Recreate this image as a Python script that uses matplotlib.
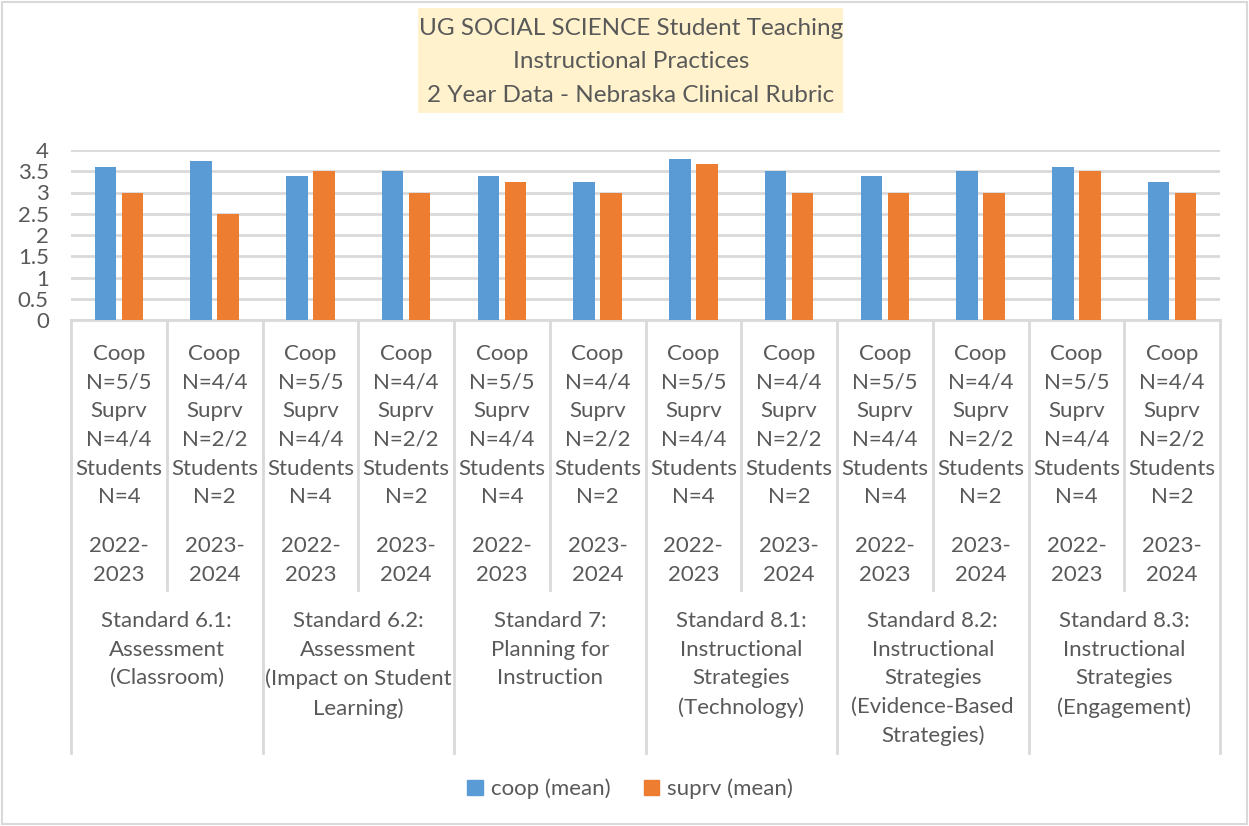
import numpy as np
import matplotlib

matplotlib.use("agg")
import matplotlib.pyplot as plt
from matplotlib.patches import Rectangle
from matplotlib.lines import Line2D
from matplotlib.transforms import blended_transform_factory

plt.rcParams["font.family"] = ["Lato", "DejaVu Sans"]

standards = [
    "Standard 6.1:\nAssessment\n(Classroom)",
    "Standard 6.2:\nAssessment\n(Impact on Student\nLearning)",
    "Standard 7:\nPlanning for\nInstruction",
    "Standard 8.1:\nInstructional\nStrategies\n(Technology)",
    "Standard 8.2:\nInstructional\nStrategies\n(Evidence-Based\nStrategies)",
    "Standard 8.3:\nInstructional\nStrategies\n(Engagement)",
]
counts = [
    "Coop\nN=5/5\nSuprv\nN=4/4\nStudents\nN=4",
    "Coop\nN=4/4\nSuprv\nN=2/2\nStudents\nN=2",
]
years = ["2022-\n2023", "2023-\n2024"]

coop = [3.6, 3.75, 3.4, 3.5, 3.4, 3.25, 3.8, 3.5, 3.4, 3.5, 3.6, 3.25]
suprv = [3.0, 2.5, 3.5, 3.0, 3.25, 3.0, 3.67, 3.0, 3.0, 3.0, 3.5, 3.0]

W, H = 1249, 826
fig = plt.figure(figsize=(W / 100, H / 100), dpi=100)
txt = "#595959"
grid = "#D9D9D9"

# plot area in pixels
x0, x1, ytop, ybot = 71, 1220, 150, 320
ax = fig.add_axes([x0 / W, 1 - ybot / H, (x1 - x0) / W, (ybot - ytop) / H])

n = len(coop)
x = np.arange(n)
bw = 0.225
ax.bar(x - 0.142, coop, bw, color="#5B9BD5", zorder=3)
ax.bar(x + 0.142, suprv, bw, color="#ED7D31", zorder=3)

ax.set_xlim(-0.5, n - 0.5)
ax.set_ylim(0, 4)
ax.set_yticks(np.arange(0, 4.01, 0.5))
ax.set_yticklabels(["0", "0.5", "1", "1.5", "2", "2.5", "3", "3.5", "4"])
ax.tick_params(axis="y", length=0, pad=16, labelsize=16, labelcolor=txt)
ax.tick_params(axis="x", length=0, labelbottom=False)
ax.yaxis.grid(True, color=grid, linewidth=2, zorder=0)
for s in ["top", "right", "left"]:
    ax.spines[s].set_visible(False)
ax.spines["bottom"].set_color(grid)
ax.spines["bottom"].set_linewidth(2)

tr = blended_transform_factory(ax.transData, fig.transFigure)


def fy(py):
    return 1 - py / H


# category separators
for i in range(n + 1):
    bottom = 753 if i % 2 == 0 else 590
    fig.add_artist(Line2D([i - 0.5, i - 0.5], [fy(320), fy(bottom)],
                          transform=tr, color=grid, linewidth=2))

for i in range(n):
    ax.text(i, fy(344), counts[i % 2], transform=tr, ha="center", va="top",
            fontsize=16, color=txt, linespacing=1.54)
    ax.text(i, fy(536), years[i % 2], transform=tr, ha="center", va="top",
            fontsize=16, color=txt, linespacing=1.54)

for g, lab in enumerate(standards):
    ax.text(2 * g + 0.5, fy(611), lab, transform=tr, ha="center", va="top",
            fontsize=16, color=txt, linespacing=1.54)

# title box
fig.add_artist(Rectangle((418 / W, fy(113)), (843 - 418) / W, (113 - 8) / H,
                         transform=fig.transFigure, facecolor="#FFF2CC",
                         edgecolor="none"))
fig.text(631 / W, fy(62), "UG SOCIAL SCIENCE Student Teaching\nInstructional Practices\n"
         "2 Year Data - Nebraska Clinical Rubric", ha="center", va="center",
         fontsize=17.5, color=txt, linespacing=1.76)

# outer border
fig.add_artist(Rectangle((2 / W, 2 / H), (W - 4) / W, (H - 4) / H,
                         transform=fig.transFigure, facecolor="none",
                         edgecolor=grid, linewidth=1.5))

handles = [Rectangle((0, 0), 1, 1, color="#5B9BD5"),
           Rectangle((0, 0), 1, 1, color="#ED7D31")]
fig.legend(handles, ["coop (mean)", "suprv (mean)"], loc="center",
           bbox_to_anchor=(630 / W, fy(789)), ncol=2, frameon=False,
           fontsize=16, labelcolor=txt, handlelength=0.7, handleheight=0.7,
           handletextpad=0.35, columnspacing=1.5)

fig.savefig("out.png", dpi=100)
